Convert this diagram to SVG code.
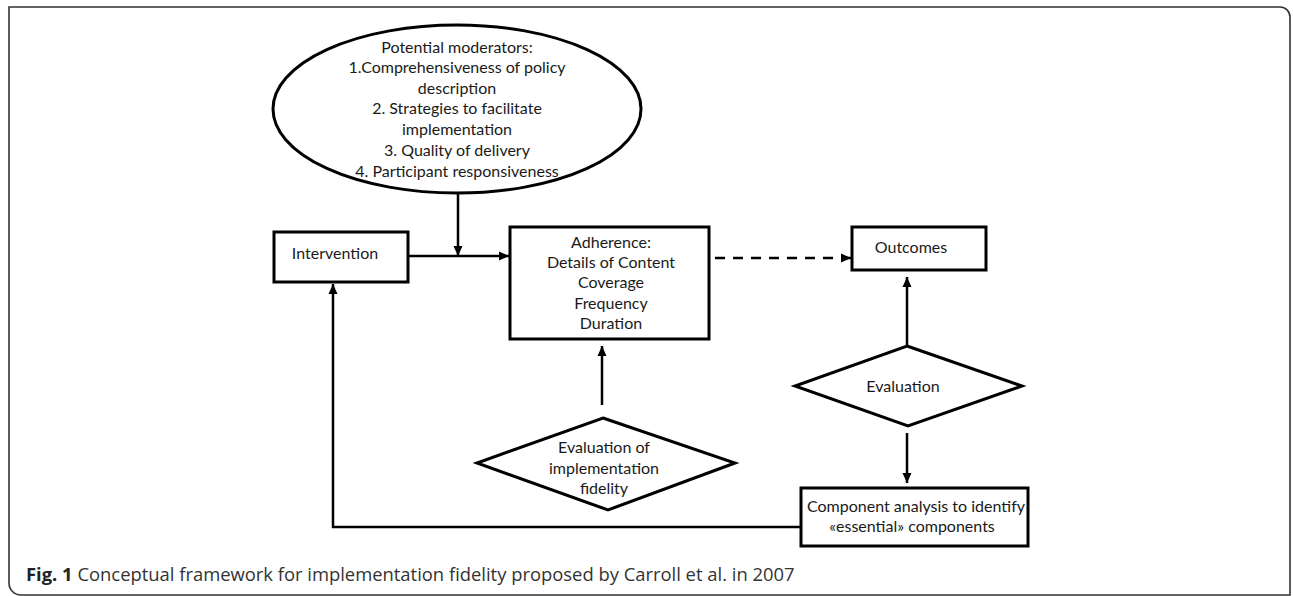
<svg xmlns="http://www.w3.org/2000/svg" width="1293" height="596" viewBox="0 0 1293 596">
<style>
.shape{fill:#fff;stroke:#000;stroke-width:3}
.t{font-family:Lato,"Open Sans","Liberation Sans",sans-serif;font-size:16px;fill:#1a1a1a;text-anchor:middle}
.c{stroke:#000;stroke-width:2.5;fill:none}
.cap{font-family:"Open Sans","Liberation Sans",sans-serif;font-size:18.4px;fill:#333}
</style>
<defs>
<marker id="ah" markerUnits="userSpaceOnUse" markerWidth="12" markerHeight="12" viewBox="0 0 12 12" refX="11" refY="6" orient="auto">
<path d="M1,1.5 L11,6 L1,10.5 Z" fill="#000"/>
</marker>
</defs>
<rect width="1293" height="596" fill="#fff"/>
<path d="M9,7 H1280 A10,10 0 0 1 1290,17 V595 H21 A12,12 0 0 1 9,583 Z" fill="none" stroke="#333" stroke-width="1.6"/>

<g id="connectors">
<line class="c" x1="458" y1="193" x2="458" y2="256" marker-end="url(#ah)"/>
<line class="c" x1="408" y1="256" x2="509" y2="256" marker-end="url(#ah)"/>
<line class="c" x1="715" y1="258" x2="851" y2="258" stroke-dasharray="10,8" marker-end="url(#ah)"/>
<line class="c" x1="602" y1="405" x2="602" y2="346" marker-end="url(#ah)"/>
<line class="c" x1="907" y1="346" x2="907" y2="277" marker-end="url(#ah)"/>
<line class="c" x1="907" y1="433" x2="907" y2="483" marker-end="url(#ah)"/>
<polyline class="c" points="801,527 333,527 333,284" marker-end="url(#ah)"/>
</g>

<g id="moderators">
<ellipse class="shape" cx="457" cy="109" rx="184" ry="84"/>
<text class="t" x="457" y="53">Potential moderators:</text>
<text class="t" x="457" y="73">1.Comprehensiveness of policy</text>
<text class="t" x="457" y="94">description</text>
<text class="t" x="457" y="114">2. Strategies to facilitate</text>
<text class="t" x="457" y="135">implementation</text>
<text class="t" x="457" y="156">3. Quality of delivery</text>
<text class="t" x="457" y="177">4. Participant responsiveness</text>
</g>

<g id="intervention">
<rect class="shape" x="274" y="232" width="134" height="50"/>
<text class="t" x="335" y="259">Intervention</text>
</g>

<g id="adherence">
<rect class="shape" x="510" y="227" width="199" height="112"/>
<text class="t" x="611" y="248">Adherence:</text>
<text class="t" x="611" y="268">Details of Content</text>
<text class="t" x="611" y="288">Coverage</text>
<text class="t" x="611" y="309">Frequency</text>
<text class="t" x="611" y="329">Duration</text>
</g>

<g id="outcomes">
<rect class="shape" x="852" y="227" width="134" height="43"/>
<text class="t" x="911" y="253">Outcomes</text>
</g>

<g id="eval-fidelity">
<polygon class="shape" points="603,418 735,463 608,510 477,463"/>
<text class="t" x="604" y="453">Evaluation of</text>
<text class="t" x="604" y="474">implementation</text>
<text class="t" x="604" y="494">fidelity</text>
</g>

<g id="evaluation">
<polygon class="shape" points="907,346 1022,386 908,426 795,386"/>
<text class="t" x="903" y="392">Evaluation</text>
</g>

<g id="component">
<rect class="shape" x="801" y="488" width="227" height="58"/>
<text class="t" x="916" y="512">Component analysis to identify</text>
<text class="t" x="912" y="532">«essential» components</text>
</g>

<text class="cap" x="26" y="581"><tspan font-weight="bold" fill="#222">Fig. 1</tspan> Conceptual framework for implementation fidelity proposed by Carroll et al. in 2007</text>
</svg>
